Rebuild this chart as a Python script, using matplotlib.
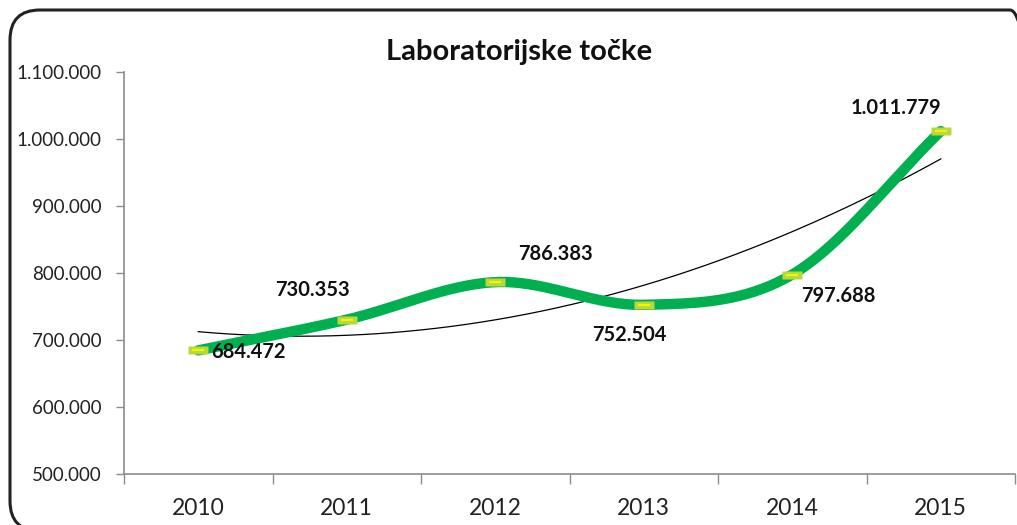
import matplotlib.pyplot as plt
import numpy as np
from matplotlib.patches import FancyBboxPatch
from matplotlib.path import Path
from matplotlib.transforms import IdentityTransform

# data
years = ['2010', '2011', '2012', '2013', '2014', '2015']
values = [684472, 730353, 786383, 752504, 797688, 1011779]
labels = ['684.472', '730.353', '786.383', '752.504', '797.688', '1.011.779']
# label offsets in pixels (dx, dy) relative to each point
label_off = [(50, -2), (-34, 30), (60, 28), (-14, -30), (46, -21), (-45, 23)]

yticks = [500000, 600000, 700000, 800000, 900000, 1000000, 1100000]
ytick_labels = ['500.000', '600.000', '700.000', '800.000', '900.000', '1.000.000', '1.100.000']

plt.rcParams['font.family'] = ['Lato', 'DejaVu Sans']


def catmull_rom(x, y, n=40):
    # smoothed line through the points, like a spreadsheet "smoothed line"
    x = np.asarray(x, float)
    y = np.asarray(y, float)
    px = np.concatenate([[2 * x[0] - x[1]], x, [2 * x[-1] - x[-2]]])
    py = np.concatenate([[2 * y[0] - y[1]], y, [2 * y[-1] - y[-2]]])
    xs, ys = [], []
    for i in range(1, len(px) - 2):
        t = np.linspace(0, 1, n)
        for p, out in ((px, xs), (py, ys)):
            p0, p1, p2, p3 = p[i - 1], p[i], p[i + 1], p[i + 2]
            out.extend(0.5 * ((2 * p1) + (-p0 + p2) * t
                              + (2 * p0 - 5 * p1 + 4 * p2 - p3) * t ** 2
                              + (-p0 + 3 * p1 - 3 * p2 + p3) * t ** 3))
    return np.array(xs), np.array(ys)


fig = plt.figure(figsize=(10.17, 5.25), dpi=100)
W, H = 1017, 525

# rounded outer frame in pixels (partly cut off by the image edges)
frame = FancyBboxPatch((10, -6), 1030, 521,
                       boxstyle='round,pad=0,rounding_size=30',
                       transform=IdentityTransform(), fill=False,
                       edgecolor='#222222', linewidth=2.2)
fig.patches.append(frame)

ax = fig.add_axes([124 / W, 1 - 474 / H, (1015 - 124) / W, (474 - 72) / H])
x = np.arange(len(years))

# polynomial (order 2) trendline
coef = np.polyfit(x, values, 2)
xt = np.linspace(0, len(years) - 1, 200)
ax.plot(xt, np.polyval(coef, xt), color='black', lw=0.9, zorder=2)

sx, sy = catmull_rom(x, values)
ax.plot(sx, sy, color='#00b050', lw=7.5, solid_capstyle='round', zorder=3)

rect = Path([(-1, -0.4), (1, -0.4), (1, 0.4), (-1, 0.4), (-1, -0.4)],
            [Path.MOVETO, Path.LINETO, Path.LINETO, Path.LINETO, Path.CLOSEPOLY])
ax.plot(x, values, ls='none', marker=rect, ms=15, mfc='#b8d83c', mec='none', zorder=4)
ax.plot(x, values, ls='none', marker='_', ms=9, mew=1.6, color='#f5f500', zorder=5)

for xi, v, lab, (dx, dy) in zip(x, values, labels, label_off):
    ax.annotate(lab, (xi, v), xytext=(dx * 0.72, dy * 0.72), textcoords='offset points',
                ha='center', va='center', fontsize=14.5, fontweight='bold', color='#111111')

ax.set_xlim(-0.5, len(years) - 0.5)
ax.set_ylim(500000, 1100000)
ax.set_yticks(yticks)
ax.set_yticklabels(ytick_labels)
ax.set_xticks(np.arange(-0.5, len(years), 1))
ax.set_xticklabels([])
ax.set_xticks(x, minor=True)
ax.set_xticklabels(years, minor=True)
ax.tick_params(axis='x', which='major', length=7, color='#8c8c8c', width=1)
ax.tick_params(axis='x', which='minor', length=0, pad=17, labelsize=16.5, labelcolor='#222222')
ax.tick_params(axis='y', length=6, color='#8c8c8c', width=1, labelsize=13.5, labelcolor='#222222', pad=10)
for s in ['top', 'right']:
    ax.spines[s].set_visible(False)
for s in ['left', 'bottom']:
    ax.spines[s].set_color('#8c8c8c')
    ax.spines[s].set_linewidth(1.2)

fig.text(519 / W, 1 - 52 / H, 'Laboratorijske točke', ha='center', va='center',
         fontsize=21, fontweight='bold', color='#111111')

fig.savefig('out.png', dpi=100)
